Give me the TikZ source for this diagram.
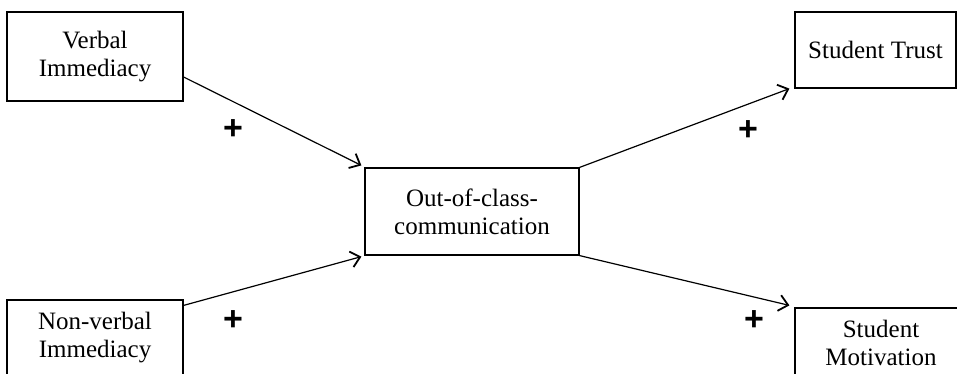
\documentclass[tikz,border=0pt]{standalone}
\usepackage{fontspec}
\setmainfont{Liberation Serif}
\newfontfamily\plusfont{Liberation Sans}
\usetikzlibrary{arrows.meta}
\begin{document}
\begin{tikzpicture}[x=1pt,y=-1pt,
  box/.style={draw, line width=1.2pt, align=center, inner sep=0pt,
    font=\fontsize{25}{28}\selectfont},
  link/.style={line width=1.2pt,
    -{Straight Barb[length=9pt,width=16pt,line width=1.8pt]}},
  sign/.style={font=\plusfont\bfseries\fontsize{34}{34}\selectfont, inner sep=0pt}]
\useasboundingbox (0,0) rectangle (957,373);
\clip (0,0) rectangle (957,373);
\node[box, minimum width=176pt, minimum height=89pt] (v) at (95,56.5) {Verbal\\Immediacy};
\node[box, minimum width=176pt, minimum height=76pt] (nv) at (95,338) {Non-verbal\\Immediacy};
\node[box, minimum width=214pt, minimum height=87pt] (c) at (472,211.5) {Out-of-class-\\communication};
\node[box, minimum width=161pt, minimum height=76pt] (t) at (875.5,50) {Student Trust};
\node[box, minimum width=172pt, minimum height=69pt] (m) at (881,342.5) {Student\\Motivation};
\draw[link] ([yshift=-20.5pt]v.east) -- ([xshift=-3pt,yshift=2pt]c.north west);
\draw[link] ([yshift=-6pt]nv.north east) -- ([xshift=-3pt,yshift=-1pt]c.south west);
\draw[link] (c.north east) -- ([xshift=-5pt]t.south west);
\draw[link] (c.south east) -- ([xshift=-5pt,yshift=2pt]m.north west);
\node[sign] (p1) at (233,130) {+};
\node[sign] (p2) at (233,321) {+};
\node[sign] (p3) at (748,131) {+};
\node[sign] (p4) at (754,321) {+};
\end{tikzpicture}
\end{document}
